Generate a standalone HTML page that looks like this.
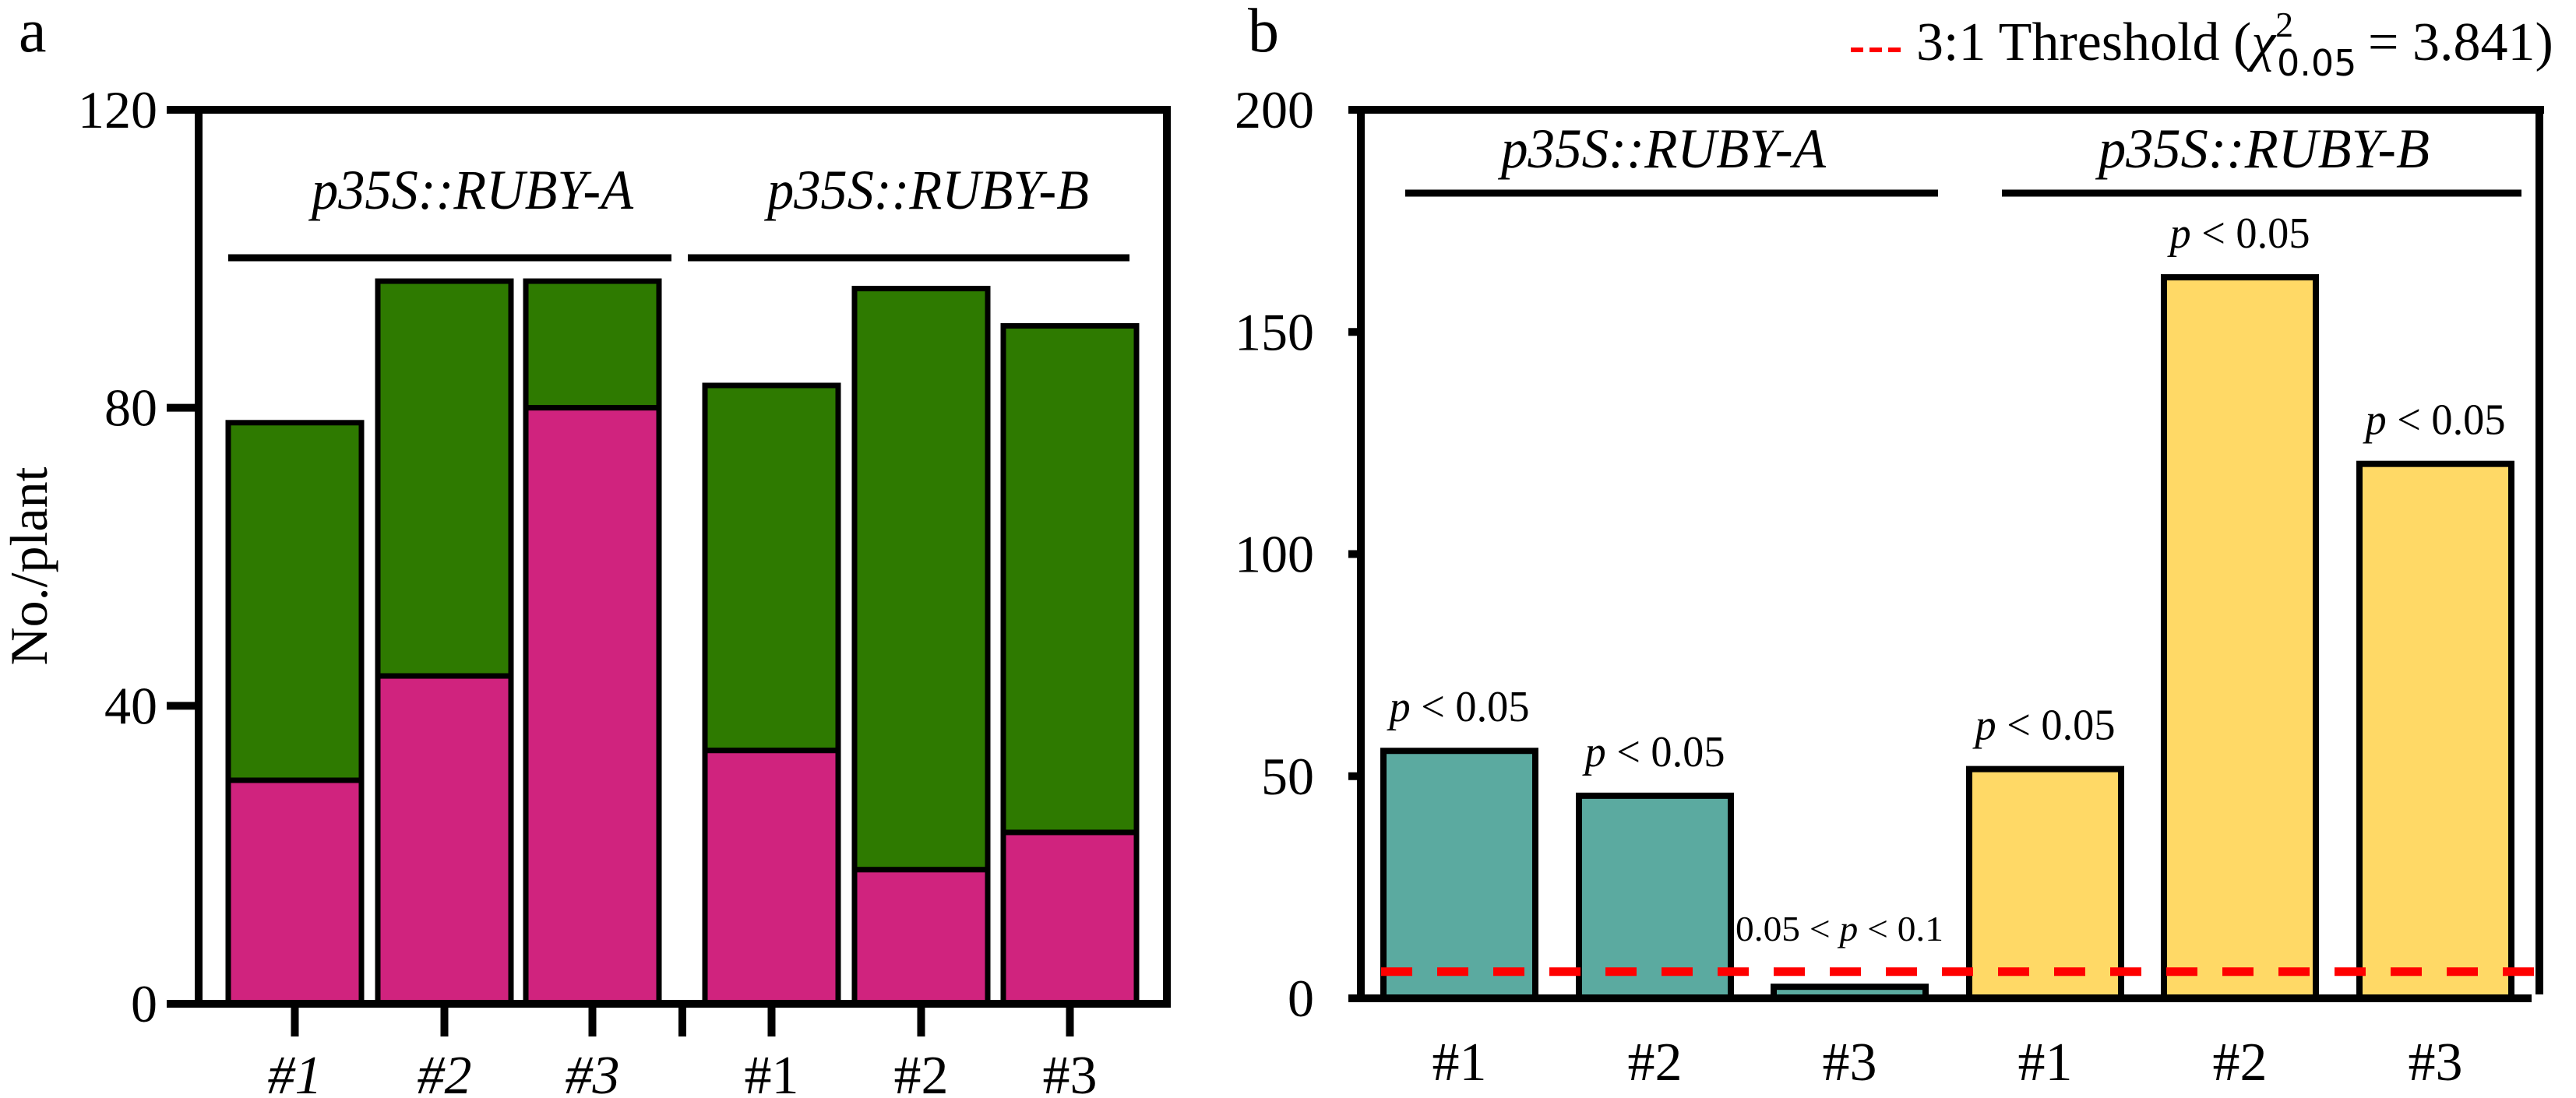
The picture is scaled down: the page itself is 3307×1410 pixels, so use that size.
<!DOCTYPE html>
<html><head><meta charset="utf-8"><style>
html,body{margin:0;padding:0;background:#fff}
svg{display:block}
</style></head><body>
<svg id="fig" width="3307" height="1410" viewBox="0 0 3307 1410" xmlns="http://www.w3.org/2000/svg" font-family="Liberation Serif, serif">
</svg>
<script>
// Panel a data
const aCategories = ['#1','#2','#3','#1','#2','#3'];
const aTotal = [78, 97, 97, 83, 96, 91];
const aPink = [30, 44, 80, 34, 18, 23];
const aTicks = [0, 40, 80, 120];
// Panel b data
const bCategories = ['#1','#2','#3','#1','#2','#3'];
const bValues = [55.7, 45.6, 2.6, 51.6, 162.3, 120.3];
const bLabels = ['p < 0.05','p < 0.05','0.05 < p < 0.1','p < 0.05','p < 0.05','p < 0.05'];
const bTicks = [0, 50, 100, 150, 200];
const threshold = [6];

const NS='http://www.w3.org/2000/svg';
const svg=document.getElementById('fig');
const SERIF='Liberation Serif, serif';
function mk(tag, attrs, parent){const e=document.createElementNS(NS,tag);for(const k in attrs)e.setAttribute(k,attrs[k]);(parent||svg).appendChild(e);return e;}
function txt(s, attrs, parent){attrs['font-family']=attrs['font-family']||SERIF;attrs.fill='#000';const e=mk('text',attrs,parent);e.textContent=s;return e;}

// ---------- Panel a ----------
const aL=255,aR=1498,aT=141,aB=1289,aMax=120;
const ay=v=>aB-(v/aMax)*(aB-aT);
const aX0=[293,485,675,905,1097,1288], aW=171;
const ga=mk('g',{});


const la=txt('a',{x:24,y:66,'font-size':80},ga);

aCategories.forEach((c,i)=>{
  const x=aX0[i];
  const g=mk('rect',{x:x,y:ay(aTotal[i]),width:aW,height:ay(aPink[i])-ay(aTotal[i]),fill:'#2e7a00',stroke:'#000','stroke-width':7},ga);
  
  
  const p=mk('rect',{x:x,y:ay(aPink[i]),width:aW,height:aB-ay(aPink[i]),fill:'#d0237e',stroke:'#000','stroke-width':7},ga);
  
  
  const cx=x+aW/2;
  mk('line',{x1:cx,y1:aB,x2:cx,y2:1331,stroke:'#000','stroke-width':10},ga);
  const t=txt(c,{x:cx,y:1404,'font-size':70,'text-anchor':'middle','font-style':i<3?'italic':'normal'},ga);
  
  
});
mk('line',{x1:876,y1:aB,x2:876,y2:1331,stroke:'#000','stroke-width':10},ga);
mk('line',{x1:214,y1:aT,x2:aR+5,y2:aT,stroke:'#000','stroke-width':10},ga);
mk('line',{x1:214,y1:aB,x2:aR+5,y2:aB,stroke:'#000','stroke-width':10},ga);
mk('line',{x1:aL,y1:aT,x2:aL,y2:aB,stroke:'#000','stroke-width':10},ga);
mk('line',{x1:aR,y1:aT,x2:aR,y2:aB,stroke:'#000','stroke-width':10},ga);
aTicks.forEach(v=>{
  mk('line',{x1:214,y1:ay(v),x2:aL,y2:ay(v),stroke:'#000','stroke-width':10},ga);
  const t=txt(String(v),{x:202,y:ay(v)+23,'font-size':68,'text-anchor':'end'},ga);
  
  
});
const yt=txt('No./plant',{x:0,y:0,'font-size':68,'text-anchor':'middle',transform:'translate(60,727) rotate(-90)'},ga);

mk('line',{x1:293,y1:331,x2:862,y2:331,stroke:'#000','stroke-width':9},ga);
mk('line',{x1:883,y1:331,x2:1450,y2:331,stroke:'#000','stroke-width':9},ga);
const ga1=txt('p35S::RUBY-A',{x:400,y:268,'font-size':72,'font-style':'italic',textLength:413,lengthAdjust:'spacingAndGlyphs'},ga);

const ga2=txt('p35S::RUBY-B',{x:985,y:268,'font-size':72,'font-style':'italic',textLength:413,lengthAdjust:'spacingAndGlyphs'},ga);


// ---------- Panel b ----------
const bL=1747,bR=3260,bT=141,bB=1282,bMax=200;
const by=v=>bB-(v/bMax)*(bB-bT);
const bX0=[1776,2027,2277,2528,2778,3029], bW=195;
const gb=mk('g',{});


const lb=txt('b',{x:1602,y:66,'font-size':80},gb);

bCategories.forEach((c,i)=>{
  const x=bX0[i];
  const r=mk('rect',{x:x,y:by(bValues[i]),width:bW,height:bB-by(bValues[i]),fill:i<3?'#5baaa0':'#ffd966',stroke:'#000','stroke-width':8},gb);
  
  
  const cx=x+bW/2;
  const t=txt(c,{x:cx,y:1387,'font-size':70,'text-anchor':'middle'},gb);
  
  
  const lab=bLabels[i];
  let pl;
  if(lab.startsWith('p')){
    pl=txt('',{x:cx,y:by(bValues[i])-38,'font-size':56,'text-anchor':'middle',textLength:180,lengthAdjust:'spacingAndGlyphs'},gb);
    pl.innerHTML='<tspan font-style="italic">p</tspan> &lt; 0.05';
  } else {
    pl=txt('',{x:2228,y:1208,'font-size':46,textLength:267,lengthAdjust:'spacingAndGlyphs'},gb);
    pl.innerHTML='0.05 &lt; <tspan font-style="italic">p</tspan> &lt; 0.1';
  }
  
  
});
mk('line',{x1:1731,y1:bT,x2:bR+6,y2:bT,stroke:'#000','stroke-width':10},gb);
mk('line',{x1:1731,y1:bB,x2:3250,y2:bB,stroke:'#000','stroke-width':10},gb);
mk('line',{x1:bL,y1:bT,x2:bL,y2:bB,stroke:'#000','stroke-width':10},gb);
mk('line',{x1:bR,y1:bT,x2:bR,y2:bB-5,stroke:'#000','stroke-width':10},gb);
bTicks.forEach(v=>{
  mk('line',{x1:1731,y1:by(v),x2:bL,y2:by(v),stroke:'#000','stroke-width':10},gb);
  const t=txt(String(v),{x:1687,y:by(v)+23,'font-size':68,'text-anchor':'end'},gb);
  
  
});
const th=mk('line',{x1:1773,y1:by(threshold[0]),x2:3255,y2:by(threshold[0]),stroke:'#ff0000','stroke-width':11,'stroke-dasharray':'40 32'},gb);

mk('line',{x1:1804,y1:248,x2:2488,y2:248,stroke:'#000','stroke-width':9},gb);
mk('line',{x1:2570,y1:248,x2:3237,y2:248,stroke:'#000','stroke-width':9},gb);
const gb1=txt('p35S::RUBY-A',{x:1927,y:215,'font-size':72,'font-style':'italic',textLength:417,lengthAdjust:'spacingAndGlyphs'},gb);

const gb2=txt('p35S::RUBY-B',{x:2694,y:215,'font-size':72,'font-style':'italic',textLength:425,lengthAdjust:'spacingAndGlyphs'},gb);

// legend
const lg=mk('g',{});


mk('line',{x1:2376,y1:64,x2:2441,y2:64,stroke:'#ff0000','stroke-width':6,'stroke-dasharray':'16 8'},lg);
const lt=txt('',{x:2460,y:77,'font-size':70},lg);
lt.innerHTML='3:1 Threshold (<tspan font-style="italic">χ</tspan><tspan font-size="46" dy="-30">2</tspan><tspan font-size="46" font-family="DejaVu Sans" x="2923" dy="50">0.05</tspan><tspan dy="-20" x="3040">= 3.841)</tspan>';


</script>
</body></html>
